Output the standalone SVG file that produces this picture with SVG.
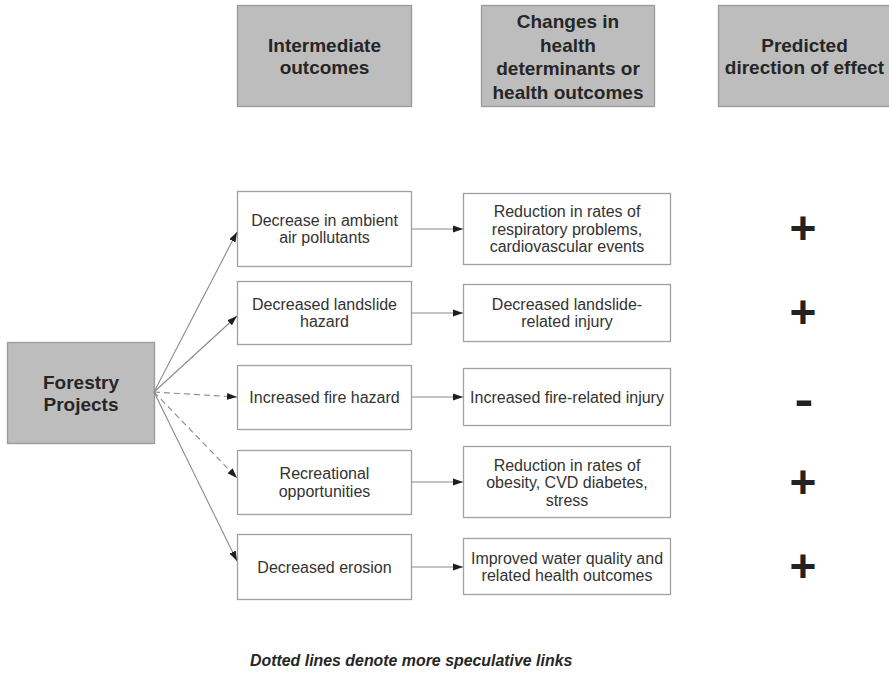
<svg xmlns="http://www.w3.org/2000/svg" width="889" height="673" viewBox="0 0 889 673">
  <style>
    .hdr { fill: #bdbdbd; stroke: #9a9a9a; stroke-width: 1.3; }
    .box { fill: #ffffff; stroke: #a0a0a0; stroke-width: 1.3; }
    .ht { font-family: "Liberation Sans", Arial, sans-serif; font-weight: bold; font-size: 19px; fill: #262626; text-anchor: middle; }
    .bt { font-family: "Liberation Sans", Arial, sans-serif; font-size: 16px; fill: #333333; text-anchor: middle; }
    .sign { font-family: "Liberation Sans", Arial, sans-serif; font-weight: bold; font-size: 46px; fill: #222222; text-anchor: middle; }
    .cap { font-family: "Liberation Sans", Arial, sans-serif; font-weight: bold; font-style: italic; font-size: 15.9px; fill: #262626; }
    .link { stroke: #8a8a8a; stroke-width: 1.1; fill: none; marker-end: url(#arrow); }
    .dash { stroke-dasharray: 6 4; }
  </style>
  <defs>
    <marker id="arrow" markerUnits="userSpaceOnUse" markerWidth="10" markerHeight="8" refX="10" refY="4" orient="auto">
      <path d="M0,0.5 L10,4 L0,7.5 z" fill="#1e1e1e"/>
    </marker>
  </defs>

  <rect width="889" height="673" fill="#ffffff"/>

  <!-- column headings -->
  <g id="head-intermediate">
    <rect class="hdr" x="237.5" y="5.5" width="174" height="101"/>
    <text class="ht" x="324.5" y="52">Intermediate</text>
    <text class="ht" x="324.5" y="74">outcomes</text>
  </g>
  <g id="head-changes">
    <rect class="hdr" x="481.5" y="5.5" width="173" height="101"/>
    <text class="ht" x="568" y="28">Changes in</text>
    <text class="ht" x="568" y="51.5">health</text>
    <text class="ht" x="568" y="75">determinants or</text>
    <text class="ht" x="568" y="98.5">health outcomes</text>
  </g>
  <g id="head-direction">
    <rect class="hdr" x="718.5" y="5.5" width="173" height="101"/>
    <text class="ht" x="804.5" y="52">Predicted</text>
    <text class="ht" x="804.5" y="74">direction of effect</text>
  </g>

  <!-- source -->
  <g id="forestry">
    <rect class="hdr" x="7.5" y="342.5" width="147" height="101"/>
    <text class="ht" x="81" y="389">Forestry</text>
    <text class="ht" x="81" y="411">Projects</text>
  </g>

  <!-- intermediate outcomes -->
  <g id="air">
    <rect class="box" x="237.5" y="191.5" width="174" height="75"/>
    <text class="bt" x="324.5" y="225.5">Decrease in ambient</text>
    <text class="bt" x="324.5" y="243">air pollutants</text>
  </g>
  <g id="landslide">
    <rect class="box" x="237.5" y="281.5" width="174" height="63"/>
    <text class="bt" x="324.5" y="309.5">Decreased landslide</text>
    <text class="bt" x="324.5" y="327">hazard</text>
  </g>
  <g id="fire">
    <rect class="box" x="237.5" y="365.5" width="174" height="64"/>
    <text class="bt" x="324.5" y="403">Increased fire hazard</text>
  </g>
  <g id="recreation">
    <rect class="box" x="237.5" y="450.5" width="174" height="64"/>
    <text class="bt" x="324.5" y="479">Recreational</text>
    <text class="bt" x="324.5" y="496.5">opportunities</text>
  </g>
  <g id="erosion">
    <rect class="box" x="237.5" y="534.5" width="174" height="65"/>
    <text class="bt" x="324.5" y="572.5">Decreased erosion</text>
  </g>

  <!-- health determinants / outcomes -->
  <g id="respiratory">
    <rect class="box" x="463.5" y="193.5" width="207" height="71"/>
    <text class="bt" x="567" y="217">Reduction in rates of</text>
    <text class="bt" x="567" y="234.5">respiratory problems,</text>
    <text class="bt" x="567" y="252">cardiovascular events</text>
  </g>
  <g id="landslide-injury">
    <rect class="box" x="463.5" y="284.5" width="207" height="57"/>
    <text class="bt" x="567" y="309.5">Decreased landslide-</text>
    <text class="bt" x="567" y="327">related injury</text>
  </g>
  <g id="fire-injury">
    <rect class="box" x="463.5" y="368.5" width="207" height="57"/>
    <text class="bt" x="567" y="403">Increased fire-related injury</text>
  </g>
  <g id="obesity">
    <rect class="box" x="463.5" y="446.5" width="207" height="71"/>
    <text class="bt" x="567" y="470.5">Reduction in rates of</text>
    <text class="bt" x="567" y="488">obesity, CVD diabetes,</text>
    <text class="bt" x="567" y="505.5">stress</text>
  </g>
  <g id="water">
    <rect class="box" x="463.5" y="538.5" width="207" height="56"/>
    <text class="bt" x="567" y="563.5">Improved water quality and</text>
    <text class="bt" x="567" y="581">related health outcomes</text>
  </g>

  <!-- predicted direction -->
  <g id="signs">
    <text class="sign" x="803" y="243.5">+</text>
    <text class="sign" x="803" y="327.5">+</text>
    <text class="sign" x="804" y="414.5" textLength="19" lengthAdjust="spacingAndGlyphs">-</text>
    <text class="sign" x="803" y="497.5">+</text>
    <text class="sign" x="803" y="581.5">+</text>
  </g>

  <!-- connectors -->
  <g id="connectors">
    <line class="link" x1="154" y1="392" x2="237" y2="232"/>
    <line class="link" x1="154" y1="392" x2="237" y2="316"/>
    <line class="link dash" x1="154" y1="392" x2="237" y2="397"/>
    <line class="link dash" x1="154" y1="392" x2="237" y2="478"/>
    <line class="link" x1="154" y1="392" x2="237" y2="561"/>
    <line class="link" x1="411" y1="229" x2="463" y2="229"/>
    <line class="link" x1="411" y1="313" x2="463" y2="313"/>
    <line class="link" x1="411" y1="397" x2="463" y2="397"/>
    <line class="link" x1="411" y1="482" x2="463" y2="482"/>
    <line class="link" x1="411" y1="567" x2="463" y2="567"/>
  </g>

  <text class="cap" x="250" y="666">Dotted lines denote more speculative links</text>
</svg>
